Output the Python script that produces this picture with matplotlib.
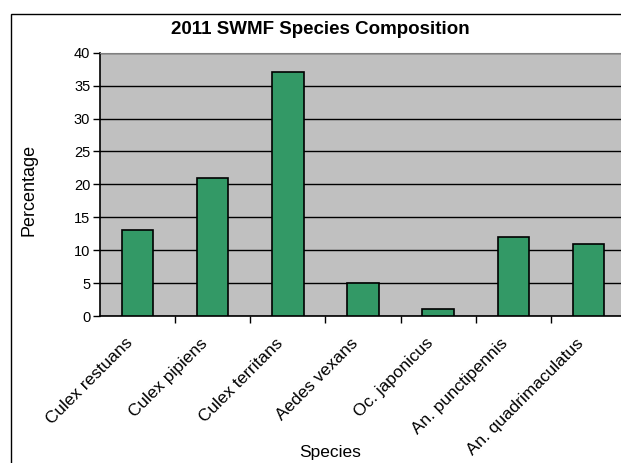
import numpy as np
import matplotlib.pyplot as plt
from matplotlib.patches import Rectangle

## the data
species = ['Culex restuans', 'Culex pipiens', 'Culex territans', 'Aedes vexans',
           'Oc. japonicus', 'An. punctipennis', 'An. quadrimaculatus']
percent = [13, 21, 37, 5, 1, 12, 11]

plt.rcParams['font.family'] = ['Liberation Sans', 'DejaVu Sans']

fig = plt.figure(figsize=(6.21, 4.63), dpi=100)
W, H = 621.0, 463.0

# outer chart border (cropped on right and bottom like the original)
fig.patches.append(Rectangle((10.5 / W, -0.05), 1.2, (H - 14) / H + 0.05,
                             transform=fig.transFigure, fill=False,
                             edgecolor='black', linewidth=1.0))

ax = fig.add_axes([100 / W, (H - 316) / H, 526 / W, 263.3 / H])
ax.set_facecolor('#C0C0C0')

ind = np.arange(len(species))
width = 0.42
ax.bar(ind, percent, width, color='#339966', edgecolor='black',
       linewidth=1.2, zorder=3)

ax.set_xlim(-0.5, len(species) - 0.5)
ax.set_ylim(0, 40)
ax.set_yticks(np.arange(0, 41, 5))
ax.yaxis.grid(True, color='black', linewidth=1.0, zorder=1)
ax.set_axisbelow(True)

# labels left of category centres, tick marks at the boundaries
ax.set_xticks(ind - 0.17)
ax.set_xticklabels(species, rotation=45, ha='right', va='top',
                   rotation_mode='anchor', fontsize=12.4)
ax.tick_params(axis='x', which='major', length=0, pad=14)
ax.set_xticks(np.arange(0.5, len(species) - 0.5, 1.0), minor=True)
ax.tick_params(axis='x', which='minor', length=5, direction='out', width=1)
ax.tick_params(axis='y', length=5, width=1, labelsize=10.5, pad=2)

for s in ['left', 'bottom']:
    ax.spines[s].set_color('black')
    ax.spines[s].set_linewidth(1.2)
ax.spines['top'].set_color('#808080')
ax.spines['right'].set_visible(False)

fig.text(29 / W, 1 - 190 / H, 'Percentage', rotation=90, ha='center',
         va='center', fontsize=13)
fig.text(330 / W, 1 - 453 / H, 'Species', ha='center', va='center', fontsize=12.5)
fig.text(320 / W, 1 - 29 / H, '2011 SWMF Species Composition', ha='center',
         va='center', fontsize=13.5, fontweight='bold')

fig.savefig('out.png', dpi=100)
